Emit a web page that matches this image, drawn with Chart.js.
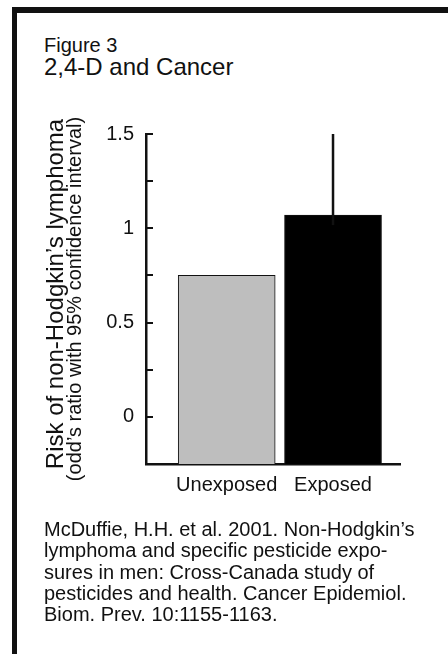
<!DOCTYPE html>
<html>
<head>
<meta charset="utf-8">
<script src="https://cdn.jsdelivr.net/npm/chart.js@4.4.1/dist/chart.umd.min.js"></script>
<style>
    html, body { margin: 0; padding: 0; background: #fff; }
    body { width: 448px; height: 654px; position: relative; overflow: hidden; font-family: "Liberation Sans", Arial, sans-serif; color: #111; }
    #frame { position: absolute; left: 12px; top: 7px; width: 440px; height: 660px; border-top: 6px solid #111; border-left: 5px solid #111; box-sizing: border-box; }
    .txt { position: absolute; left: 44px; white-space: nowrap; }
    #fig { top: 35px; font-size: 20px; line-height: 20px; }
    #title { top: 55px; font-size: 24px; line-height: 24px; }
    #cite { top: 519px; font-size: 20px; line-height: 21.3px; }
    #chartBox { position: absolute; left: 20px; top: 100px; width: 410px; height: 420px; }
</style>
</head>
<body>
<div id="frame"></div>
<div class="txt" id="fig">Figure 3</div>
<div class="txt" id="title">2,4-D and Cancer</div>
<div id="chartBox"><canvas id="chart"></canvas></div>
<div class="txt" id="cite">McDuffie, H.H. et al. 2001. Non-Hodgkin’s<br>lymphoma and specific pesticide expo-<br>sures in men: Cross-Canada study of<br>pesticides and health. Cancer Epidemiol.<br>Biom. Prev. 10:1155-1163.</div>

<script>
// Chart data
const categories = ['Unexposed', 'Exposed'];
const oddsRatios = [0.75, 1.07];
const ciUpper = [null, 1.5];   // only the exposed group shows an error bar
const barColors = ['#bebebe', '#000000'];

const yMin = -0.25;
const yMax = 1.5;

const yTitleMain = 'Risk of non-Hodgkin’s lymphoma';
const yTitleSub = '(odd’s ratio with 95% confidence interval)';

// Inward y ticks, the upper confidence whisker and the big first line of the y title
const marksPlugin = {
    id: 'marks',
    afterDatasetsDraw(chart) {
        const ctx = chart.ctx;
        const xs = chart.scales.x;
        const ys = chart.scales.y;
        const left = chart.chartArea.left;
        ctx.save();
        ctx.strokeStyle = '#111';

        // y ticks pointing into the plot
        ctx.lineWidth = 2;
        ys.ticks.forEach(t => {
            if (t.value <= yMin) return;
            const y = Math.round(ys.getPixelForValue(t.value));
            ctx.beginPath();
            ctx.moveTo(left, y);
            ctx.lineTo(left + 7, y);
            ctx.stroke();
        });

        // error bars
        ctx.lineWidth = 2.5;
        ciUpper.forEach((hi, i) => {
            if (hi == null) return;
            const x = xs.getPixelForValue(i + 1);
            ctx.beginPath();
            ctx.moveTo(x, ys.getPixelForValue(oddsRatios[i]) + 10);
            ctx.lineTo(x, ys.getPixelForValue(hi));
            ctx.stroke();
        });

        // first title line is set larger than the second
        ctx.translate(ys.left + 43, (ys.top + ys.bottom) / 2 - 5);
        ctx.rotate(-Math.PI / 2);
        ctx.fillStyle = '#111';
        ctx.font = '24px "Liberation Sans"';
        ctx.textAlign = 'center';
        ctx.textBaseline = 'alphabetic';
        ctx.fillText(yTitleMain, 0, 0);
        ctx.restore();
    }
};

const ctx = document.getElementById('chart').getContext('2d');
new Chart(ctx, {
    type: 'bar',
    data: {
        datasets: [{
            data: categories.map((c, i) => ({ x: i + 1, y: [yMin, oddsRatios[i]] })),
            backgroundColor: barColors,
            borderColor: '#111',
            borderWidth: 1,
            borderSkipped: 'start',
            barThickness: 97
        }]
    },
    options: {
        responsive: true,
        maintainAspectRatio: false,
        animation: false,
        layout: { padding: { left: 0, top: 34, right: 30, bottom: 0 } },
        plugins: {
            legend: { display: false },
            tooltip: { enabled: false }
        },
        scales: {
            x: {
                type: 'linear',
                offset: false,
                min: 0.241,
                max: 2.63,
                grid: { display: false, drawTicks: false, offset: false },
                border: { display: true, color: '#111', width: 2.5 },
                afterBuildTicks: scale => {
                    scale.ticks = categories.map((c, i) => ({ value: i + 1 }));
                },
                afterFit: scale => { scale.height = 56; },
                ticks: {
                    color: '#111',
                    padding: 9,
                    maxRotation: 0,
                    autoSkip: false,
                    font: { family: 'Liberation Sans', size: 20 },
                    callback: v => categories[v - 1] || ''
                }
            },
            y: {
                min: yMin,
                max: yMax,
                grid: { display: false, drawTicks: false },
                border: { display: true, color: '#111', width: 2.5 },
                afterFit: scale => { scale.width = 126; },
                ticks: {
                    stepSize: 0.25,
                    color: '#111',
                    padding: 12,
                    font: { family: 'Liberation Sans', size: 20 },
                    callback: v => (v >= 0 && v % 0.5 === 0) ? String(v) : ''
                },
                title: {
                    display: true,
                    text: yTitleSub,
                    color: '#111',
                    padding: { top: 45, bottom: 0 },
                    font: { family: 'Liberation Sans', size: 20, lineHeight: 1 }
                }
            }
        }
    },
    plugins: [marksPlugin]
});
</script>
</body>
</html>
